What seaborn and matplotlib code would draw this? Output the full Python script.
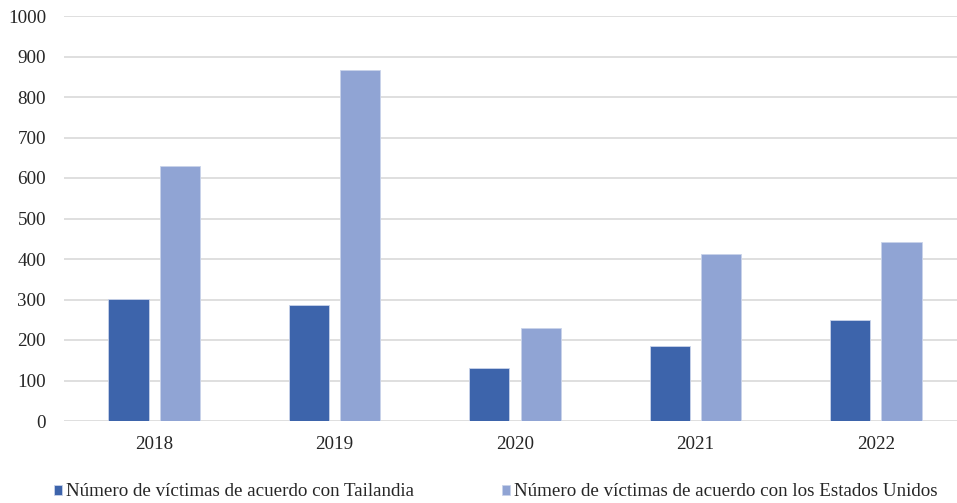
import matplotlib
matplotlib.use('Agg')
import matplotlib.pyplot as plt
import seaborn as sns
import pandas as pd

# valores
years = ['2018', '2019', '2020', '2021', '2022']
tailandia = [301, 286, 131, 186, 249]
estados_unidos = [630, 867, 230, 412, 443]
series_names = ['Número de víctimas de acuerdo con Tailandia',
                'Número de víctimas de acuerdo con los Estados Unidos']
colors = ['#3D64AB', '#90A4D4']
y_ticks = [0, 100, 200, 300, 400, 500, 600, 700, 800, 900, 1000]

df = pd.DataFrame({
    'year': years * 2,
    'value': tailandia + estados_unidos,
    'serie': [series_names[0]] * len(years) + [series_names[1]] * len(years),
})

sns.set_theme(style='white')
plt.rcParams['font.family'] = ['Liberation Serif', 'DejaVu Serif']

fig = plt.figure(figsize=(9.57, 5.03), dpi=100)
ax = fig.add_axes([64 / 957, (503 - 421) / 503, (957 - 64) / 957, (421 - 16) / 503])

sns.barplot(data=df, x='year', y='value', hue='serie', palette=colors,
            saturation=1, width=0.57, gap=0.22, edgecolor='#C9D3EA',
            linewidth=0.6, ax=ax, zorder=3)

ax.set_xlim(-0.5, 4.45)
ax.set_ylim(0, 1000)
ax.set_yticks(y_ticks)
ax.set_yticklabels([str(t) for t in y_ticks])
ax.yaxis.grid(True, color='#D9D9D9', linewidth=1.2, zorder=0)
ax.set_axisbelow(True)
for s in ax.spines.values():
    s.set_visible(False)
ax.tick_params(axis='y', length=0, pad=13, labelsize=13.7, labelcolor='#262626')
ax.tick_params(axis='x', length=0, pad=11, labelsize=13.7, labelcolor='#262626')
ax.set_xlabel('')
ax.set_ylabel('')

handles, labels = ax.get_legend_handles_labels()
ax.get_legend().remove()
fig.legend(handles, labels, loc='center', bbox_to_anchor=(0.518, 0.022), ncol=2,
           frameon=False, fontsize=13.7, handlelength=0.45, handleheight=0.45,
           handletextpad=0.2, columnspacing=4.6, labelcolor='#262626')

fig.savefig('out.png', dpi=100)
